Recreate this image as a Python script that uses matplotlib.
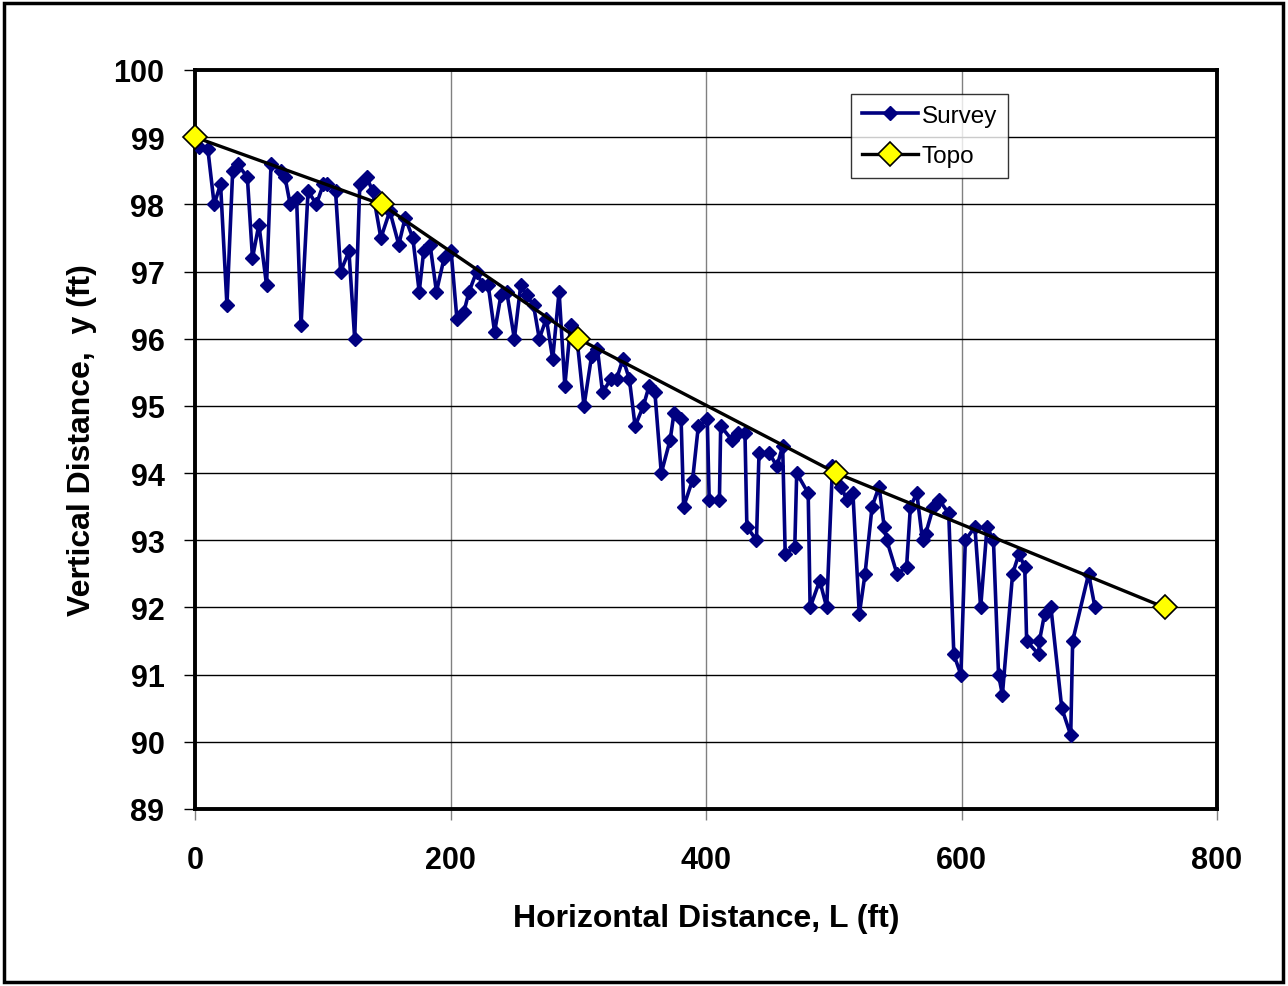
import matplotlib.pyplot as plt
from matplotlib.patches import Rectangle

# Survey points (horizontal ft, vertical ft)
survey_x = [0, 3, 10, 15, 20, 25, 29.5, 33.5, 41, 45, 50, 56, 59.5, 67, 70.5, 74.5,
            79.5, 83, 88.5, 95, 100.5, 103.5, 110, 114, 120.5, 125, 129, 134.5, 139,
            145.5, 152.5, 159.5, 164.5, 170.5, 175.5, 179, 184, 189, 195, 200.5, 205,
            210.5, 214.5, 220.5, 225, 229.5, 234.5, 239.5, 244, 250, 255, 259.5, 265,
            269.5, 275, 280, 285, 289.5, 294, 299, 304.5, 310.5, 315, 319, 325.5, 330,
            335, 340, 344.5, 351, 355.5, 360, 365, 372, 375, 380.5, 382.5, 389.5, 394,
            401, 402.5, 410.5, 411.5, 420, 425, 430.5, 432, 439.5, 441.5, 449.5, 455.5,
            460, 462, 469.5, 471, 480, 481.5, 489, 494.5, 499, 506, 510, 515, 520,
            524.5, 530, 535.5, 539.5, 541.5, 549.5, 557, 560, 565, 569.5, 572, 578,
            582.5, 590, 594, 599.5, 603, 610.5, 615, 620, 625, 629, 632, 640, 645,
            649.5, 651, 660.5, 661, 665, 670, 678.5, 685.5, 687, 699.5, 704.5]
survey_y = [99.0, 98.85, 98.83, 98.0, 98.3, 96.5, 98.5, 98.6, 98.4, 97.2, 97.7, 96.8,
            98.6, 98.5, 98.4, 98.0, 98.1, 96.2, 98.2, 98.0, 98.3, 98.3, 98.2, 97.0,
            97.3, 96.0, 98.3, 98.4, 98.2, 97.5, 97.9, 97.4, 97.8, 97.5, 96.7, 97.3,
            97.4, 96.7, 97.2, 97.3, 96.3, 96.4, 96.7, 97.0, 96.8, 96.8, 96.1, 96.65,
            96.7, 96.0, 96.8, 96.65, 96.5, 96.0, 96.3, 95.7, 96.7, 95.3, 96.2, 96.0,
            95.0, 95.75, 95.85, 95.2, 95.4, 95.4, 95.7, 95.4, 94.7, 95.0, 95.3, 95.2,
            94.0, 94.5, 94.9, 94.8, 93.5, 93.9, 94.7, 94.8, 93.6, 93.6, 94.7, 94.5,
            94.6, 94.6, 93.2, 93.0, 94.3, 94.3, 94.1, 94.4, 92.8, 92.9, 94.0, 93.7,
            92.0, 92.4, 92.0, 94.1, 93.8, 93.6, 93.7, 91.9, 92.5, 93.5, 93.8, 93.2,
            93.0, 92.5, 92.6, 93.5, 93.7, 93.0, 93.1, 93.5, 93.6, 93.4, 91.3, 91.0,
            93.0, 93.2, 92.0, 93.2, 93.0, 91.0, 90.7, 92.5, 92.8, 92.6, 91.5, 91.3,
            91.5, 91.9, 92.0, 90.5, 90.1, 91.5, 92.5, 92.0]

# Topo map points
topo_x = [0, 146, 300, 502, 759]
topo_y = [99, 98, 96, 94, 92]

x_ticks = [0, 200, 400, 600, 800]
y_ticks = list(range(89, 101))

plt.rcParams['font.family'] = ['Liberation Sans', 'DejaVu Sans']

fig = plt.figure(figsize=(12.88, 9.87), dpi=100)
ax = fig.add_axes([195 / 1288, 1 - 810 / 987, 1022 / 1288, 739 / 987])

ax.plot(survey_x, survey_y, color='#000080', linewidth=2.6, marker='D',
        markersize=7.5, markerfacecolor='#000080', markeredgecolor='#000080',
        label='Survey', zorder=3)
ax.plot(topo_x, topo_y, color='black', linewidth=2.4, marker='D',
        markersize=12, markerfacecolor='#FFFF00', markeredgecolor='black',
        markeredgewidth=1.2, label='Topo', zorder=4, clip_on=False)

ax.set_xlim(0, 800)
ax.set_ylim(89, 100)
ax.set_xticks(x_ticks)
ax.set_yticks(y_ticks)
ax.grid(axis='y', color='black', linewidth=1.0)
ax.grid(axis='x', color='#808080', linewidth=1.0)
ax.set_axisbelow(True)

for sp in ax.spines.values():
    sp.set_linewidth(2.8)
    sp.set_color('black')

ax.tick_params(axis='y', direction='out', length=8, width=1, color='black',
               pad=14, labelsize=22)
ax.tick_params(axis='x', direction='out', length=8, width=1, color='#808080',
               pad=18, labelsize=22)
for lbl in ax.get_xticklabels() + ax.get_yticklabels():
    lbl.set_fontweight('bold')

ax.set_xlabel('Horizontal Distance, L (ft)', fontsize=23, fontweight='bold', labelpad=20)
ax.set_ylabel('Vertical Distance,  y (ft)', fontsize=23, fontweight='bold', labelpad=12)

leg = ax.legend(loc='upper left', bbox_to_anchor=(656 / 1022, 1 - 24 / 739),
                fontsize=17.5, frameon=True, fancybox=False, edgecolor='black',
                borderpad=0.45, handlelength=2.3, handletextpad=0.15,
                labelspacing=0.75, borderaxespad=0)
leg.get_frame().set_linewidth(1.0)

fig.patches.append(Rectangle((4 / 1288, 4 / 987), 1279 / 1288, 979 / 987,
                             transform=fig.transFigure, fill=False,
                             edgecolor='black', linewidth=2.5))

fig.savefig('out.png', dpi=100)
